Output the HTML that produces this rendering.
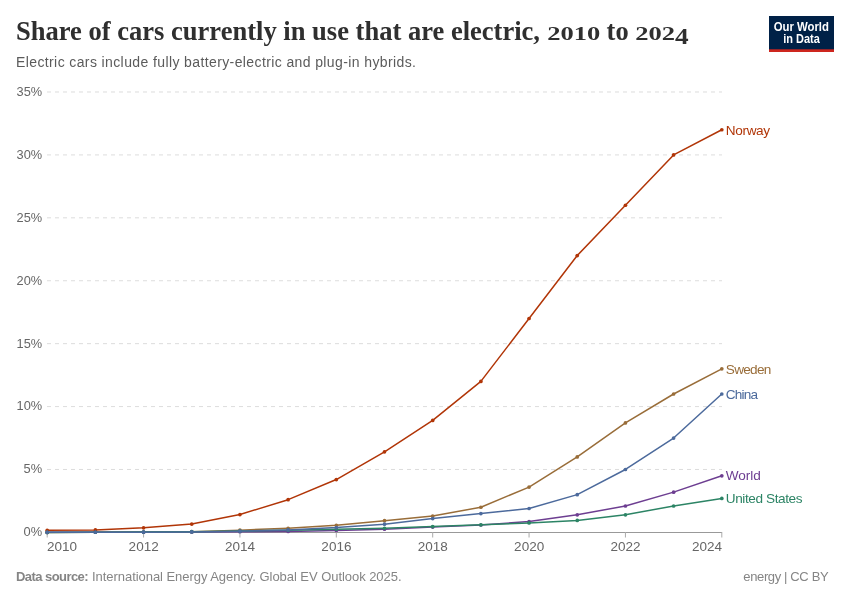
<!DOCTYPE html>
<html lang="en">
<head>
<meta charset="utf-8">
<title>Share of cars currently in use that are electric, 2010 to 2024</title>
<style>
html,body{margin:0;padding:0;background:#fff;}
body{width:850px;height:600px;overflow:hidden;}
svg{display:block;}
svg text{font-family:"Liberation Sans",Arial,sans-serif;}
svg text.title{font-family:"Liberation Serif","Times New Roman",serif;font-weight:bold;fill:#2f2f2f;}
.sub{fill:#5b5b5b;font-size:14px;}
.ax{fill:#666;font-size:13.5px;}
.ft{fill:#858585;font-size:13px;}
.lbl text{font-size:13.6px;}
.logo{fill:#fff;font-weight:bold;font-size:12.3px;}
</style>
</head>
<body>
<svg width="850" height="600" viewBox="0 0 850 600">
<rect x="0" y="0" width="850" height="600" fill="#fff"/>
<text class="title"><tspan x="16" y="40.0" font-size="28" textLength="524" lengthAdjust="spacingAndGlyphs">Share of cars currently in use that are electric,</tspan> <tspan x="547.3" y="40.0" font-size="18.6" textLength="53" lengthAdjust="spacingAndGlyphs">2010</tspan> <tspan x="606.6" y="40.0" font-size="28" textLength="22" lengthAdjust="spacingAndGlyphs">to</tspan> <tspan x="635.3" y="40.0" font-size="18.6" textLength="39.8" lengthAdjust="spacingAndGlyphs">202</tspan><tspan x="675" y="44.0" font-size="24" textLength="13.6" lengthAdjust="spacingAndGlyphs">4</tspan></text>
<text class="sub" x="16" y="66.7" textLength="400" lengthAdjust="spacing">Electric cars include fully battery-electric and plug-in hybrids.</text>
<g><rect x="769" y="16" width="65" height="36" fill="#002147"/><rect x="769" y="49.3" width="65" height="2.7" fill="#CE261E"/><text class="logo" x="801.3" y="30.6" text-anchor="middle" textLength="55.3" lengthAdjust="spacingAndGlyphs">Our World</text><text class="logo" x="801.5" y="42.6" text-anchor="middle" textLength="36.6" lengthAdjust="spacingAndGlyphs">in Data</text></g>
<g stroke="#ddd" stroke-width="1" stroke-dasharray="4,4" fill="none"><line x1="47" y1="469.48" x2="722" y2="469.48"/><line x1="47" y1="406.57" x2="722" y2="406.57"/><line x1="47" y1="343.65" x2="722" y2="343.65"/><line x1="47" y1="280.74" x2="722" y2="280.74"/><line x1="47" y1="217.82" x2="722" y2="217.82"/><line x1="47" y1="154.91" x2="722" y2="154.91"/><line x1="47" y1="91.99" x2="722" y2="91.99"/></g>
<g class="ax" text-anchor="end"><text x="42.2" y="536.30" textLength="18.6" lengthAdjust="spacingAndGlyphs">0%</text><text x="42.2" y="473.38" textLength="18.6" lengthAdjust="spacingAndGlyphs">5%</text><text x="42.2" y="410.47" textLength="25.6" lengthAdjust="spacingAndGlyphs">10%</text><text x="42.2" y="347.55" textLength="25.6" lengthAdjust="spacingAndGlyphs">15%</text><text x="42.2" y="284.64" textLength="25.6" lengthAdjust="spacingAndGlyphs">20%</text><text x="42.2" y="221.72" textLength="25.6" lengthAdjust="spacingAndGlyphs">25%</text><text x="42.2" y="158.81" textLength="25.6" lengthAdjust="spacingAndGlyphs">30%</text><text x="42.2" y="95.89" textLength="25.6" lengthAdjust="spacingAndGlyphs">35%</text></g>
<line x1="47" y1="532.5" x2="722" y2="532.5" stroke="#999" stroke-width="1"/><g stroke="#aaa" stroke-width="1"><line x1="47.20" y1="532" x2="47.20" y2="537.5"/><line x1="143.57" y1="532" x2="143.57" y2="537.5"/><line x1="239.94" y1="532" x2="239.94" y2="537.5"/><line x1="336.31" y1="532" x2="336.31" y2="537.5"/><line x1="432.69" y1="532" x2="432.69" y2="537.5"/><line x1="529.06" y1="532" x2="529.06" y2="537.5"/><line x1="625.43" y1="532" x2="625.43" y2="537.5"/><line x1="721.80" y1="532" x2="721.80" y2="537.5"/></g>
<g class="ax"><text x="47.00" y="550.7" text-anchor="start" textLength="30.1" lengthAdjust="spacing">2010</text><text x="143.67" y="550.7" text-anchor="middle" textLength="30.1" lengthAdjust="spacing">2012</text><text x="240.04" y="550.7" text-anchor="middle" textLength="30.1" lengthAdjust="spacing">2014</text><text x="336.41" y="550.7" text-anchor="middle" textLength="30.1" lengthAdjust="spacing">2016</text><text x="432.79" y="550.7" text-anchor="middle" textLength="30.1" lengthAdjust="spacing">2018</text><text x="529.16" y="550.7" text-anchor="middle" textLength="30.1" lengthAdjust="spacing">2020</text><text x="625.53" y="550.7" text-anchor="middle" textLength="30.1" lengthAdjust="spacing">2022</text><text x="722.00" y="550.7" text-anchor="end" textLength="30.1" lengthAdjust="spacing">2024</text></g>
<g fill="#B13507" stroke="none"><path d="M47.20,530.26 L95.39,529.88 L143.57,527.87 L191.76,524.10 L239.94,514.53 L288.13,499.68 L336.31,479.55 L384.50,451.87 L432.69,420.41 L480.87,381.40 L529.06,318.49 L577.24,255.57 L625.43,205.24 L673.61,154.91 L721.80,129.74" fill="none" stroke="#B13507" stroke-width="1.5" stroke-linejoin="round" stroke-linecap="round"/><circle cx="47.20" cy="530.26" r="1.85"/><circle cx="95.39" cy="529.88" r="1.85"/><circle cx="143.57" cy="527.87" r="1.85"/><circle cx="191.76" cy="524.10" r="1.85"/><circle cx="239.94" cy="514.53" r="1.85"/><circle cx="288.13" cy="499.68" r="1.85"/><circle cx="336.31" cy="479.55" r="1.85"/><circle cx="384.50" cy="451.87" r="1.85"/><circle cx="432.69" cy="420.41" r="1.85"/><circle cx="480.87" cy="381.40" r="1.85"/><circle cx="529.06" cy="318.49" r="1.85"/><circle cx="577.24" cy="255.57" r="1.85"/><circle cx="625.43" cy="205.24" r="1.85"/><circle cx="673.61" cy="154.91" r="1.85"/><circle cx="721.80" cy="129.74" r="1.85"/></g>
<g fill="#996D39" stroke="none"><path d="M47.20,532.40 L95.39,532.27 L143.57,532.02 L191.76,531.65 L239.94,530.14 L288.13,528.25 L336.31,525.35 L384.50,520.70 L432.69,516.04 L480.87,507.23 L529.06,487.10 L577.24,456.90 L625.43,422.93 L673.61,393.99 L721.80,368.82" fill="none" stroke="#996D39" stroke-width="1.5" stroke-linejoin="round" stroke-linecap="round"/><circle cx="47.20" cy="532.40" r="1.85"/><circle cx="95.39" cy="532.27" r="1.85"/><circle cx="143.57" cy="532.02" r="1.85"/><circle cx="191.76" cy="531.65" r="1.85"/><circle cx="239.94" cy="530.14" r="1.85"/><circle cx="288.13" cy="528.25" r="1.85"/><circle cx="336.31" cy="525.35" r="1.85"/><circle cx="384.50" cy="520.70" r="1.85"/><circle cx="432.69" cy="516.04" r="1.85"/><circle cx="480.87" cy="507.23" r="1.85"/><circle cx="529.06" cy="487.10" r="1.85"/><circle cx="577.24" cy="456.90" r="1.85"/><circle cx="625.43" cy="422.93" r="1.85"/><circle cx="673.61" cy="393.99" r="1.85"/><circle cx="721.80" cy="368.82" r="1.85"/></g>
<g fill="#6D3E91" stroke="none"><path d="M47.20,532.34 L95.39,532.27 L143.57,532.15 L191.76,532.02 L239.94,531.77 L288.13,531.39 L336.31,530.51 L384.50,529.13 L432.69,527.12 L480.87,524.98 L529.06,521.58 L577.24,514.78 L625.43,505.98 L673.61,492.13 L721.80,475.78" fill="none" stroke="#6D3E91" stroke-width="1.5" stroke-linejoin="round" stroke-linecap="round"/><circle cx="47.20" cy="532.34" r="1.85"/><circle cx="95.39" cy="532.27" r="1.85"/><circle cx="143.57" cy="532.15" r="1.85"/><circle cx="191.76" cy="532.02" r="1.85"/><circle cx="239.94" cy="531.77" r="1.85"/><circle cx="288.13" cy="531.39" r="1.85"/><circle cx="336.31" cy="530.51" r="1.85"/><circle cx="384.50" cy="529.13" r="1.85"/><circle cx="432.69" cy="527.12" r="1.85"/><circle cx="480.87" cy="524.98" r="1.85"/><circle cx="529.06" cy="521.58" r="1.85"/><circle cx="577.24" cy="514.78" r="1.85"/><circle cx="625.43" cy="505.98" r="1.85"/><circle cx="673.61" cy="492.13" r="1.85"/><circle cx="721.80" cy="475.78" r="1.85"/></g>
<g fill="#2C8465" stroke="none"><path d="M47.20,532.40 L95.39,532.27 L143.57,532.02 L191.76,531.65 L239.94,531.02 L288.13,530.26 L336.31,529.25 L384.50,528.25 L432.69,526.61 L480.87,524.85 L529.06,522.96 L577.24,520.45 L625.43,514.78 L673.61,505.98 L721.80,498.43" fill="none" stroke="#2C8465" stroke-width="1.5" stroke-linejoin="round" stroke-linecap="round"/><circle cx="47.20" cy="532.40" r="1.85"/><circle cx="95.39" cy="532.27" r="1.85"/><circle cx="143.57" cy="532.02" r="1.85"/><circle cx="191.76" cy="531.65" r="1.85"/><circle cx="239.94" cy="531.02" r="1.85"/><circle cx="288.13" cy="530.26" r="1.85"/><circle cx="336.31" cy="529.25" r="1.85"/><circle cx="384.50" cy="528.25" r="1.85"/><circle cx="432.69" cy="526.61" r="1.85"/><circle cx="480.87" cy="524.85" r="1.85"/><circle cx="529.06" cy="522.96" r="1.85"/><circle cx="577.24" cy="520.45" r="1.85"/><circle cx="625.43" cy="514.78" r="1.85"/><circle cx="673.61" cy="505.98" r="1.85"/><circle cx="721.80" cy="498.43" r="1.85"/></g>
<g fill="#4C6A9C" stroke="none"><path d="M47.20,532.37 L95.39,532.27 L143.57,532.15 L191.76,531.90 L239.94,531.14 L288.13,529.88 L336.31,527.62 L384.50,524.22 L432.69,518.56 L480.87,513.53 L529.06,508.49 L577.24,494.65 L625.43,469.48 L673.61,438.03 L721.80,393.99" fill="none" stroke="#4C6A9C" stroke-width="1.5" stroke-linejoin="round" stroke-linecap="round"/><circle cx="47.20" cy="532.37" r="1.85"/><circle cx="95.39" cy="532.27" r="1.85"/><circle cx="143.57" cy="532.15" r="1.85"/><circle cx="191.76" cy="531.90" r="1.85"/><circle cx="239.94" cy="531.14" r="1.85"/><circle cx="288.13" cy="529.88" r="1.85"/><circle cx="336.31" cy="527.62" r="1.85"/><circle cx="384.50" cy="524.22" r="1.85"/><circle cx="432.69" cy="518.56" r="1.85"/><circle cx="480.87" cy="513.53" r="1.85"/><circle cx="529.06" cy="508.49" r="1.85"/><circle cx="577.24" cy="494.65" r="1.85"/><circle cx="625.43" cy="469.48" r="1.85"/><circle cx="673.61" cy="438.03" r="1.85"/><circle cx="721.80" cy="393.99" r="1.85"/></g>
<g class="lbl"><text x="725.8" y="135" fill="#B13507" textLength="44.3" lengthAdjust="spacing">Norway</text><text x="725.8" y="374" fill="#996D39" textLength="45.5" lengthAdjust="spacing">Sweden</text><text x="725.8" y="480" fill="#6D3E91" textLength="34.9" lengthAdjust="spacing">World</text><text x="725.8" y="503" fill="#2C8465" textLength="76.7" lengthAdjust="spacing">United States</text><text x="725.8" y="399" fill="#4C6A9C" textLength="32.2" lengthAdjust="spacing">China</text></g>
<text class="ft"><tspan x="16" y="580.8" font-weight="bold" textLength="72.6" lengthAdjust="spacing">Data source:</tspan> <tspan x="92" y="580.8" textLength="309.5" lengthAdjust="spacing">International Energy Agency. Global EV Outlook 2025.</tspan></text>
<text class="ft" x="828.6" y="580.8" text-anchor="end" textLength="85.3" lengthAdjust="spacing">energy | CC BY</text>
</svg>
</body>
</html>
